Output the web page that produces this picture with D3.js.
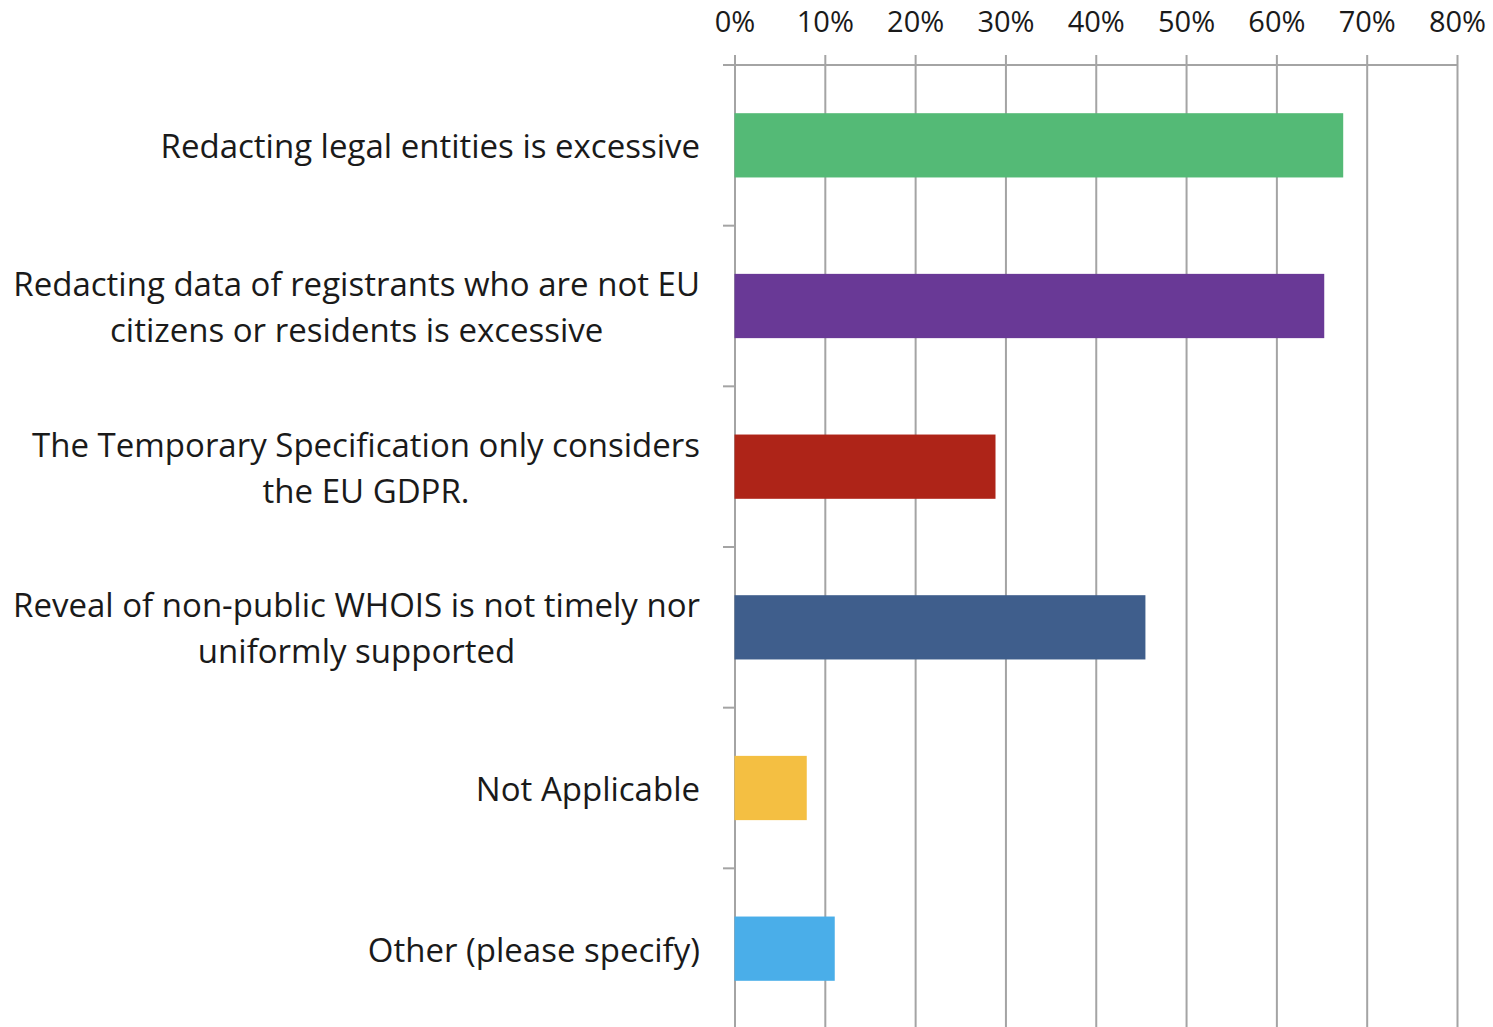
<!DOCTYPE html>
<html>
<head>
<meta charset="utf-8">
<script src="https://cdn.jsdelivr.net/npm/d3@7"></script>
<style>
  html, body { margin: 0; padding: 0; background: #ffffff; }
  svg { display: block; }
  text { font-family: "Open Sans", "Noto Sans", sans-serif; fill: #1a1a1a; }
</style>
</head>
<body>
<svg id="chart" width="1493" height="1027"></svg>
<script>
// Survey responses: share of respondents selecting each concern
const categories = [
  ["Redacting legal entities is excessive"],
  ["Redacting data of registrants who are not EU", "citizens or residents is excessive"],
  ["The Temporary Specification only considers", "the EU GDPR."],
  ["Reveal of non-public WHOIS is not timely nor", "uniformly supported"],
  ["Not Applicable"],
  ["Other (please specify)"]
];
const values = [0.674, 0.653, 0.289, 0.455, 0.080, 0.111];
const barColors = ["#54ba76", "#693996", "#ae2418", "#3f5e8c", "#f4bf42", "#4aaee9"];
const tickValues = [0, 0.1, 0.2, 0.3, 0.4, 0.5, 0.6, 0.7, 0.8];

const svg = d3.select("#chart");
const ids = categories.map((_, i) => i);

const x = d3.scaleLinear().domain([0, 0.8]).range([734.5, 1457]);
const y = d3.scaleBand().domain(ids).range([65, 1029]).paddingInner(0.6).paddingOuter(0.3);

const gridColor = "#a4a4a4";

// Vertical gridlines with the percentage axis across the top
const xAxis = d3.axisTop(x)
  .tickValues(tickValues)
  .tickFormat(d3.format(".0%"))
  .tickSize(10)
  .tickSizeOuter(0)
  .tickPadding(23);

const gx = svg.append("g").attr("transform", "translate(0,65)").call(xAxis);
gx.select(".domain").remove();
gx.selectAll(".tick line")
  .attr("y1", -10)
  .attr("y2", 1027 - 65)
  .attr("stroke", gridColor)
  .attr("stroke-width", 2);
gx.selectAll(".tick text")
  .style("font-size", "29px")
  .attr("fill", "#1a1a1a");

// Horizontal axis line along the top of the plot
svg.append("line")
  .attr("x1", 723).attr("x2", x(0.8))
  .attr("y1", 65).attr("y2", 65)
  .attr("stroke", gridColor).attr("stroke-width", 2);

// Category separators on the left edge
svg.append("g").selectAll("line")
  .data(ids)
  .join("line")
  .attr("x1", 723).attr("x2", x(0))
  .attr("y1", i => y(i) + y.bandwidth() / 2 - y.step() / 2)
  .attr("y2", i => y(i) + y.bandwidth() / 2 - y.step() / 2)
  .attr("stroke", gridColor).attr("stroke-width", 2);

// Bars
svg.append("g").selectAll("rect")
  .data(ids)
  .join("rect")
  .attr("x", x(0))
  .attr("y", i => y(i))
  .attr("width", i => x(values[i]) - x(0))
  .attr("height", y.bandwidth())
  .attr("fill", i => barColors[i]);

// Category labels: lines centred on each other, block right-aligned to the axis
const lineHeight = 46;
const labelRight = 700;
const labels = svg.append("g").selectAll("text")
  .data(ids)
  .join("text")
  .attr("text-anchor", "middle")
  .attr("dominant-baseline", "central")
  .style("font-size", "33px");

labels.each(function (i) {
  const lines = categories[i];
  const t = d3.select(this);
  const cy = y(i) + y.bandwidth() / 2;
  lines.forEach((line, k) => {
    t.append("tspan")
      .attr("x", 0)
      .attr("y", cy + (k - (lines.length - 1) / 2) * lineHeight)
      .text(line);
  });
  const w = this.getBBox().width;
  t.selectAll("tspan").attr("x", labelRight - w / 2);
});
</script>
</body>
</html>
